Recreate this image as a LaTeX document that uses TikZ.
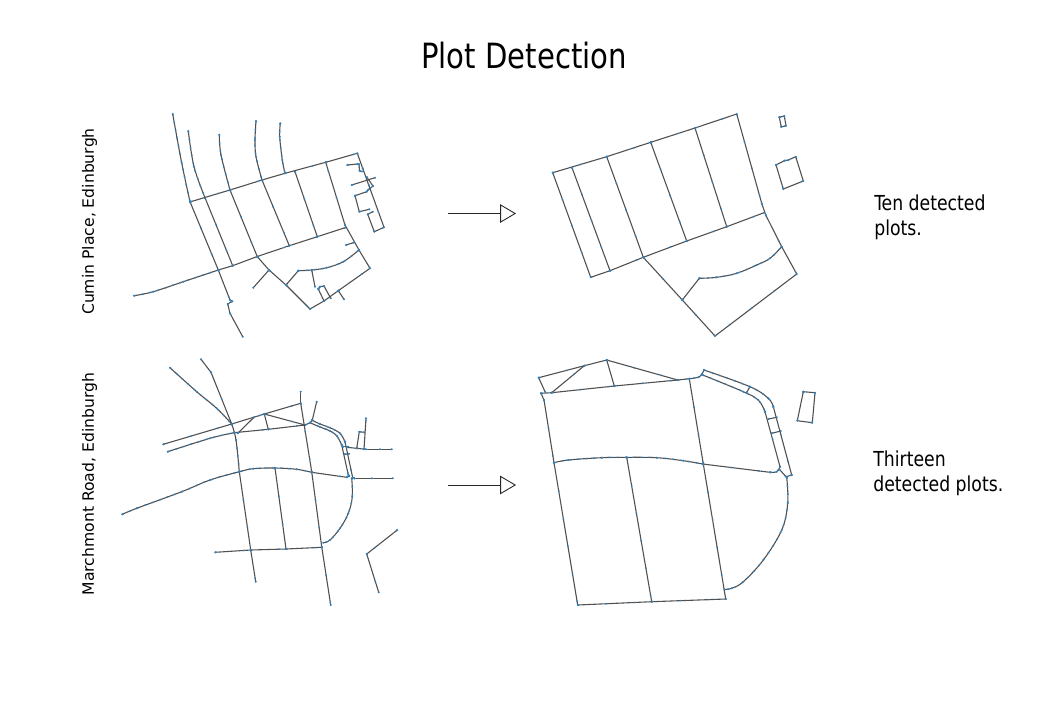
\documentclass[tikz,border=0pt]{standalone}
\usepackage{fontspec}
\setmainfont[FakeStretch=0.93]{DejaVu Sans Condensed}
\newfontfamily\verdanafont{DejaVu Sans}
\usetikzlibrary{arrows.meta}
\definecolor{roadgray}{HTML}{505050}
\definecolor{roadblue}{HTML}{3A80B4}
% a straight street: a polyline with a dot on every vertex
\newcommand{\street}[1]{
  \foreach \px/\py [count=\i, remember=\px as \qx (initially 0), remember=\py as \qy (initially 0)] in {#1} {
    \ifnum\i>1
      \draw[road] (\qx,\qy) -- (\px,\py);
      \draw[sparse] (\qx,\qy) -- (\px,\py);
    \fi
  }
  \foreach \px/\py in {#1} \fill[vertex] (\px,\py) circle (0.65pt);
}
% a curved street: smooth line through the points, many more dots
\newcommand{\bend}[1]{
  \gdef\bendpts{}
  \foreach \px/\py in {#1} {\xdef\bendpts{\bendpts (\px,\py)}}
  \edef\bendpath{\noexpand\draw[road] plot[smooth, tension=0.6] coordinates {\bendpts};}\bendpath
  \edef\bendpath{\noexpand\draw[dense] plot[smooth, tension=0.6] coordinates {\bendpts};}\bendpath
  \foreach \px/\py in {#1} \fill[vertex] (\px,\py) circle (0.65pt);
}
\begin{document}
\begin{tikzpicture}[x=0.02cm, y=-0.02cm,
road/.style={draw=roadgray, line width=0.62pt, line cap=round},
sparse/.style={draw=roadblue, line width=0.8pt, dash pattern=on 0.9pt off 15pt},
dense/.style={draw=roadblue, line width=0.8pt, dash pattern=on 1pt off 3.5pt},
vertex/.style={fill=roadblue},
caption/.style={font=\fontsize{11.75}{14.2}\selectfont, align=left, anchor=west, inner sep=0pt},
place/.style={font=\verdanafont\fontsize{8.9}{10}\selectfont, rotate=90, inner sep=0pt},
step arrow/.style={draw=black!85, line width=0.5pt, -{Triangle[open, length=9pt, width=10.5pt]}}]
\useasboundingbox (0,0) rectangle (1050,700);

\node (title) at (524,56) {\fontsize{19.8}{24}\selectfont Plot Detection};
\node[place] (place1) at (89.5,221.5) {Cumin Place, Edinburgh};
\node[place] (place2) at (89.5,484) {Marchmont Road, Edinburgh};
\node[caption] (caption1) at (874,217) {Ten detected\\plots.};
\node[caption] (caption2) at (873,473) {Thirteen\\detected plots.};

\coordinate (tail1) at (448,213.5);
\coordinate (head1) at (516,213.5);
\coordinate (tail2) at (448,485);
\coordinate (head2) at (516,485);
\draw[step arrow] (tail1) -- (head1);
\draw[step arrow] (tail2) -- (head2);

% Cumin Place, streets
\bend{172.7/114,181.7/163,190/201.7}
\street{190/201.7,218.3/270,230/300,232.3/301.3,227.7/304,230/313.3,242.7/336.7}
\bend{188.3/131,194/166.7,205/197.7}
\street{205/197.7,232.7/265.7}
\bend{219.3/134.7,221/155,230/190}
\street{230/190,257.3/256.7,269/270,286/285,310/309,324/301,338.3/290.7,370/268.3,359/250,345/225,325.7/162.3}
\bend{256/121,255/140,256/156.7,262/180}
\street{262/180,289.3/245.7}
\bend{280.3/123.3,279.7/136.7,282.3/160,285/173.3}
\street{295/171.7,317.3/236.7}
\street{190.7/201.7,230/190,262/180,285/173.3,325.7/162.3,357.3/153.3,362.6/168,368.7/185,384/227.3,374.3/231.7,367.7/214.3,372.7/211.7}
\bend{134/295.7,153.3/291.7,183.3/281.7,218.3/270}
\street{218.3/270,232.7/265.7,256.7/256.7,289.3/245.7,317.3/236.7,345/227.7}
\street{269/270,253.3/287.7}
\street{286/285,298.3/270.7}
\bend{298.3/270.7,311.7/270,326.7/267.7,343.3/261.7,359/250}
\street{311.7/270,315/286.7}
\street{318.3/289,324/301}
\street{318.3/289,320/286.7,324/286,330.7/298.3}
\street{338.3/290.7,344/299.3}
\street{346/245,353.3/242.7}
\street{347.3/165,357.3/164}
\street{359/164,359.5/170.7,362/171.5}
\street{351.7/185,375/177.7}
\street{366.7/177,373/186}
\street{355/195.7,366.7/191.7,368/190,373/186}
\street{355/195.7,359.3/211.7,369.3/209.3}

% Cumin Place, plots
\street{552.7/172.7,606.7/156.7,650.7/142.3,695/128,736.7/114,761.7/203.3,765.7/215,781.7/246.7,796.7/274,715/336,682.3/300,643.3/257.3}
\street{552.7/172.7,590.7/277.3,610/270.7,643.3/257.3,686.7/241,726.7/226.7,764/212.7}
\street{572/167.7,610/270.7}
\street{606.7/156.7,643.3/257.3}
\street{650.7/142.3,686.7/241}
\street{695/128,726.7/226.7}
\street{682.3/300,699.3/278.3}
\bend{699.3/278.3,716.7/277.3,736.7/273.3,756.7/265,770/258.3,781.7/246.7}
\street{779.3/117.3,784.3/116,786/125.7,781.3/127,779.3/117.3}
\street{776/165,784.3/160.7,788.3/160,795.7/156.7,803.3/181,783.3/189,776/165}

% Marchmont Road, streets
\bend{170/367.7,196.7/391.7,216.7/408.3,231.7/424}
\street{201/359.3,211/372.3,231.7/424}
\bend{231.7/424,236/440,239.3/471.7}
\street{239.3/471.7,250.7/550,255.7/581.7}
\street{163.3/444.3,231.7/424,264.3/414,300.7/403.3}
\bend{167.7/451.7,210/438.3,234/432.7}
\street{234/432.7,268.3/429.3,305/425}
\bend{305/425,310/422.7,312.3/420}
\street{237.7/433.3,254/417.3}
\street{264.3/414,268.3/429.3}
\street{264.3/414,305/425}
\street{300.7/391.7,300.7/403.3,311.7/471.7,321.7/546.7,330.7/605}
\street{316.7/401.7,312.3/420}
\bend{311.7/420,320/424,330/427.7,340/433.3,345/441.7}
\street{345/441.7,352.7/477.7,354.3/478.3}
\bend{310/422.7,320/427,330/431,336.7/435.7,341.7/445}
\street{341.7/445,348.3/475,349.3/476}
\street{343.3/446.7,348.3/446.7}
\street{344.7/454.3,349/453.7}
\street{346.7/447.3,356.7/448.3,366/449.3,380/449.3,391.7/449.3}
\street{356.7/448.3,359.3/431.7,364/432.3}
\street{364/449.3,366/418.3}
\bend{122.3/514.3,136.7/508.3,181.7/491.7,210/480,239.3/471.7,253.3/468.7,275/468,296.7/469.3,311.7/472.3}
\street{311.7/472.3,346.7/477.3,349.3/476}
\street{354.3/478.3,372/478.3,392.7/478.3}
\bend{351.7/478.3,352.3/496.7,348.3/513.3,340/528.3,330/540,323.3/542.7}
\street{275/468,286/549}
\street{215.3/552.3,250.7/550,286/549,321.7/547.3}
\street{397.3/530,366.7/554,378.7/592.3}

% Marchmont Road, plots
\street{538.7/377.7,584.3/365.7,606.7/360,677.7/380}
\street{538.7/377.7,545/391.7}
\street{551.7/392.7,584.3/365.7}
\street{606.7/360,614.3/386}
\street{541/393.3,551.7/392.7,614.3/386,677.7/380}
\bend{677.7/380,689.3/378.7,698.3/377.3,702/374,704/370}
\street{541/393.3,544/400,554/462.7,577.7/605,651.7/601.7,725.7/599}
\bend{554/462.7,568.3/460,601.7/457.7,626.7/457.3,656.7/457.7,683.3/460.7,702.7/464}
\street{702.7/464,770/472.3}
\bend{770/472.3,776.7/471.7,780/466.7}
\street{689.3/378.7,703.3/464,725.7/599}
\street{626.7/457.3,651.7/601.7}
\bend{704/370,750/386.7,768.3/398.3,773.3/406.7}
\street{773.3/406.7,791.7/475}
\bend{702.7/375,743.3/391.7,758.3/400,765/411.7}
\street{765/411.7,780/466.7}
\street{750/386.7,746.7/392.3}
\street{768.3/419,776.7/417.3}
\street{771.7/433.3,780.7/431}
\street{791.7/475,786/476.7,780/470}
\bend{786.7/477.3,787.7/503.3,781.7/530,763.3/560,743.3/581.7,731.7/588.3,724.3/589.3}
\street{803.3/391.7,815/392.7,812.3/422.7,797.3/420.7,803.3/391.7}
\end{tikzpicture}
\end{document}
